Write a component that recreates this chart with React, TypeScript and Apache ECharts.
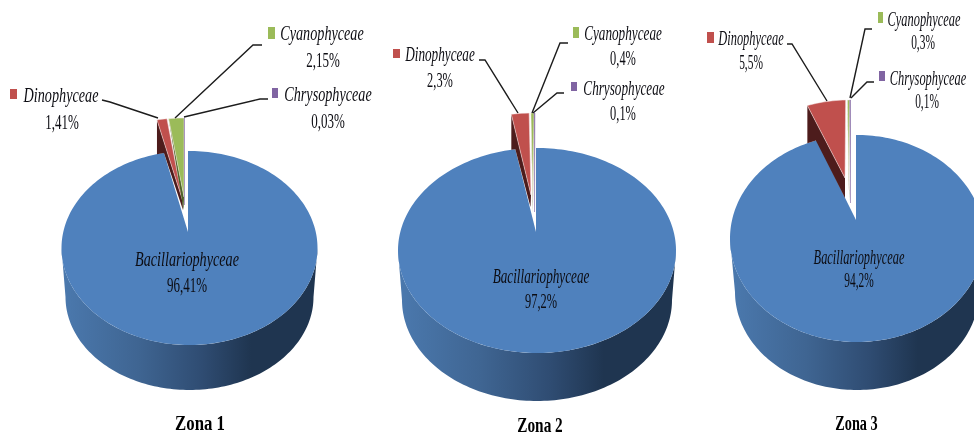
import React, { useEffect, useRef } from "react";
import * as echarts from "echarts";

const categories = ["Bacillariophyceae", "Dinophyceae", "Cyanophyceae", "Chrysophyceae"];
const zoneNames = ["Zona 1", "Zona 2", "Zona 3"];
const zona1Values = [96.41, 1.41, 2.15, 0.03];
const zona2Values = [97.2, 2.3, 0.4, 0.1];
const zona3Values = [94.2, 5.5, 0.3, 0.1];
const zoneValues = [zona1Values, zona2Values, zona3Values];

const sliceColors = ["#4f81bd", "#c0504d", "#9bbb59", "#8064a2"];
const cutColors = ["#1f3550", "#4d1c1c", "#4f6228", "#403152"];
const ANGLE_FACTOR = 0.89;

type Explode = { dx: number; ax: number; ay: number; bx: number; by: number };
const pies = [
  {
    cx: 189.5, cy: 248, rx: 128, ry: 97, bcy: 297, brx: 124, bry: 93, apexX: 188, apexY: 232, rise: 33,
    exploded: [null,
      { dx: -7, ax: 182.5, ay: 200, bx: 183, by: 210 },
      { dx: -5.3, ax: 184, ay: 197, bx: 183.5, by: 210 },
      { dx: -5, ax: 184.5, ay: 205, bx: 184.5, by: 205 }] as (Explode | null)[],
  },
  {
    cx: 537, cy: 250.5, rx: 139, ry: 102.5, bcy: 300, brx: 135, bry: 101, apexX: 536, apexY: 232, rise: 35,
    exploded: [null,
      { dx: -4, ax: 531, ay: 195, bx: 530.5, by: 207 },
      { dx: -2.2, ax: 533, ay: 200, bx: 533, by: 212 },
      { dx: -2, ax: 534.5, ay: 212, bx: 534.5, by: 212 }] as (Explode | null)[],
  },
  {
    cx: 857, cy: 238.5, rx: 127, ry: 103.5, bcy: 292, brx: 122, bry: 98, apexX: 856, apexY: 220, rise: 35,
    exploded: [null,
      { dx: -8.5, ax: 845, ay: 178, bx: 845, by: 198 },
      { dx: -6.7, ax: 849, ay: 190, bx: 849.5, by: 203 },
      { dx: -6.5, ax: 850.5, ay: 203, bx: 850.5, by: 203 }] as (Explode | null)[],
  },
];

// per zone, per category: name centre, value centre, marker box, leader line
const labelLayout = [
  {
    nameScale: 0.71, pctScale: 0.65, title: [200, 423, 0.8],
    items: [
      { name: [187, 260], pct: [187, 285] },
      { name: [61, 96], pct: [62, 122], box: [10, 89, 7, 10], line: [[102, 100], [110, 102], [158, 118]] },
      { name: [322, 34], pct: [323, 60], box: [268, 27, 7, 12], line: [[262, 45], [253, 45], [175, 118]] },
      { name: [328, 95], pct: [328, 121], box: [272, 88, 6, 10], line: [[268, 99], [260, 99], [184, 117]] },
    ],
  },
  {
    nameScale: 0.66, pctScale: 0.62, title: [540, 425, 0.73],
    items: [
      { name: [541, 277], pct: [541, 301] },
      { name: [440, 55], pct: [440, 80], box: [393, 49, 7, 9], line: [[479, 60], [485, 60], [518, 113]] },
      { name: [623, 34], pct: [623, 58], box: [573, 27, 6, 11], line: [[568, 43], [560, 43], [532, 113]] },
      { name: [624, 89], pct: [623, 113], box: [571, 82, 6, 9], line: [[564, 93], [557, 93], [533, 113]] },
    ],
  },
  {
    nameScale: 0.62, pctScale: 0.57, title: [856.5, 423, 0.68],
    items: [
      { name: [859, 257], pct: [859, 281] },
      { name: [751, 38], pct: [751, 63], box: [707, 32, 7, 11], line: [[787, 44], [792, 44], [827, 101]] },
      { name: [924, 19], pct: [923, 43], box: [878, 12, 5, 11], line: [[872, 29], [865, 29], [850, 98]] },
      { name: [928, 78], pct: [927, 102], box: [879, 71, 6, 10], line: [[874, 82], [867, 82], [851, 98]] },
    ],
  },
];

const sideGradient = {
  type: "linear", x: 0, y: 0, x2: 1, y2: 0,
  colorStops: [
    { offset: 0, color: "#4b79ae" },
    { offset: 0.3, color: "#3f6592" },
    { offset: 0.55, color: "#2f4c72" },
    { offset: 0.74, color: "#1f3550" },
    { offset: 1, color: "#1f3550" },
  ],
};

const RAD = Math.PI / 180;
const pctText = (v: number) => String(v).replace(".", ",") + "%";

function arc(cx: number, cy: number, rx: number, ry: number, from: number, to: number) {
  const n = Math.max(2, Math.ceil(Math.abs(to - from) / 1.5));
  const pts: number[][] = [];
  for (let i = 0; i <= n; i++) {
    const a = (from + ((to - from) * i) / n) * RAD;
    pts.push([cx + rx * Math.sin(a), cy - ry * Math.cos(a)]);
  }
  return pts;
}

function renderItem(_params: any, api: any) {
  const z = api.value(0);
  const s = api.value(1);
  const p = pies[z];
  const vals = zoneValues[z];
  const pctToDeg = (v: number) => v * 3.6 * ANGLE_FACTOR;
  const children: any[] = [];
  if (s === 0) {
    const end = -pctToDeg(100 - api.value(2));
    const startDeg = Math.asin((p.apexX - p.cx) / p.rx) / RAD;
    // wall, running along the front of the pie
    const upper = arc(p.cx, p.cy, p.rx, p.ry, 90, 270);
    const lower = arc(p.cx, p.bcy, p.brx, p.bry, 270, 90);
    children.push({
      type: "polygon",
      shape: { points: [...upper, ...lower] },
      style: { fill: sideGradient },
    });
    children.push({
      type: "polygon",
      shape: { points: [[p.apexX, p.apexY], ...arc(p.cx, p.cy, p.rx, p.ry, startDeg, 360 + end)] },
      style: { fill: sliceColors[0] },
    });
    return { type: "group", children };
  }
  const ex = p.exploded[s] as Explode;
  let after = 0;
  for (let i = s + 1; i < vals.length; i++) after += vals[i];
  const from = -pctToDeg(after);
  const to = -pctToDeg(after + api.value(2));
  const cx = p.cx + ex.dx;
  const cy = p.cy - p.rise;
  const rim = arc(cx, cy, p.rx, p.ry, to, from);
  const left = rim[0];
  const cut: number[][] = [left];
  if (s === 1) {
    const nx = (left[0] - p.cx) / p.rx;
    const rest = vals.slice(1).reduce((a, b) => a + b, 0);
    cut.push([left[0], p.cy - p.ry * Math.sqrt(1 - nx * nx)]);
    cut.push(arc(p.cx, p.cy, p.rx, p.ry, -pctToDeg(rest), -pctToDeg(rest))[0]);
  }
  cut.push([ex.bx, ex.by], [ex.ax, ex.ay]);
  children.push({ type: "polygon", shape: { points: cut }, style: { fill: cutColors[s] } });
  children.push({
    type: "polygon",
    shape: { points: [[ex.ax, ex.ay], ...rim] },
    style: s === 3
      ? { fill: sliceColors[s], stroke: sliceColors[s], lineWidth: 0.4 }
      : { fill: sliceColors[s], stroke: "#f4e9e8", lineWidth: 0.5 },
  });
  return { type: "group", children };
}

const FONT = '"Liberation Serif", "Times New Roman", serif';

function buildGraphics() {
  const els: any[] = [];
  labelLayout.forEach((zone, z) => {
    zone.items.forEach((it: any, s) => {
      els.push({
        type: "text", x: it.name[0], y: it.name[1], scaleX: zone.nameScale, z: 10,
        style: {
          text: categories[s], align: "center", verticalAlign: "middle", fill: "#0c0c12",
          font: `italic 20px ${FONT}`,
        },
      });
      els.push({
        type: "text", x: it.pct[0], y: it.pct[1], scaleX: zone.pctScale, z: 10,
        style: {
          text: pctText(zoneValues[z][s]), align: "center", verticalAlign: "middle", fill: "#0c0c12",
          font: `20px ${FONT}`,
        },
      });
      if (it.box) {
        els.push({
          type: "rect", z: 10,
          shape: { x: it.box[0], y: it.box[1], width: it.box[2], height: it.box[3] },
          style: { fill: sliceColors[s] },
        });
        els.push({
          type: "polyline", z: 10, shape: { points: it.line },
          style: { fill: "none", stroke: "#1c1c1c", lineWidth: 1.4 },
        });
      }
    });
    els.push({
      type: "text", x: zone.title[0], y: zone.title[1], scaleX: zone.title[2], z: 10,
      style: {
        text: zoneNames[z], align: "center", verticalAlign: "middle", fill: "#000000",
        font: `bold 21px ${FONT}`,
      },
    });
  });
  return els;
}

export default function App() {
  const ref = useRef<HTMLDivElement>(null);
  useEffect(() => {
    document.body.style.margin = "0";
    const chart = echarts.init(ref.current!, undefined, { renderer: "svg" });
    const rows: number[][] = [];
    zoneValues.forEach((vals, z) => vals.forEach((v, s) => rows.push([z, s, v])));
    chart.setOption({
      animation: false,
      backgroundColor: "#ffffff",
      series: [{ type: "custom", coordinateSystem: "none", renderItem, data: rows, silent: true, clip: false }],
      graphic: { elements: buildGraphics() },
    });
    return () => chart.dispose();
  }, []);
  return <div ref={ref} style={{ width: 974, height: 436, overflow: "hidden", filter: "blur(0.45px)" }} />;
}
